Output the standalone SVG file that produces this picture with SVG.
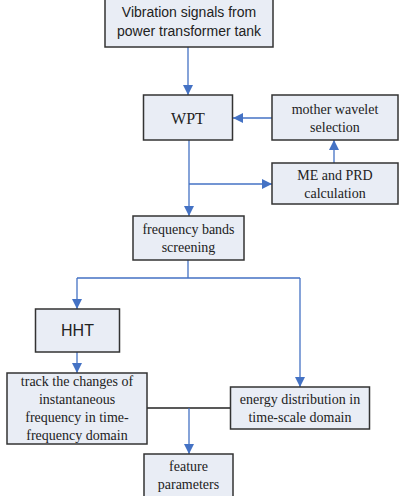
<svg xmlns="http://www.w3.org/2000/svg" width="400" height="496" viewBox="0 0 400 496">
<defs>
<marker id="ah" markerWidth="10" markerHeight="10" refX="10" refY="5" orient="auto" markerUnits="userSpaceOnUse">
<path d="M0,0 L10,5 L0,10 Z" fill="#4472c4"/>
</marker>
<style>
.box{fill:#e9edf5;stroke:#333;stroke-width:1.5}
.ser{font-family:"Liberation Serif","Times New Roman",serif;font-size:14px;fill:#222;text-anchor:middle}
.san{font-family:"Liberation Sans",Arial,sans-serif;font-size:14px;fill:#222;text-anchor:middle}
.c{fill:none;stroke:#4472c4;stroke-width:1.3}
.k{fill:none;stroke:#222;stroke-width:1.3}
</style>
</defs>
<rect width="400" height="496" fill="#fff"/>
<g id="connectors">
<path class="c" d="M188,47 V95" marker-end="url(#ah)"/>
<path class="c" d="M272,118 H233" marker-end="url(#ah)"/>
<path class="c" d="M334,163 V140" marker-end="url(#ah)"/>
<path class="c" d="M189,140 V216" marker-end="url(#ah)"/>
<path class="c" d="M189,184 H272" marker-end="url(#ah)"/>
<path class="c" d="M188,260 V278 M77,278 H300"/>
<path class="c" d="M77,278 V309" marker-end="url(#ah)"/>
<path class="c" d="M300,278 V387" marker-end="url(#ah)"/>
<path class="c" d="M77,352 V373" marker-end="url(#ah)"/>
<path class="k" d="M147,408 H230"/>
<path class="c" d="M189,408 V454" marker-end="url(#ah)"/>
</g>
<g id="n1">
<rect class="box" x="105" y="-1" width="168" height="48"/>
<text class="san" x="189" y="17">Vibration signals from</text>
<text class="san" x="189" y="36">power transformer tank</text>
</g>
<g id="wpt">
<rect class="box" x="143.5" y="95" width="89" height="45"/>
<text class="ser" x="188" y="124" style="font-size:16px">WPT</text>
</g>
<g id="mother">
<rect class="box" x="272" y="95" width="126" height="45"/>
<text class="ser" x="335" y="114">mother wavelet</text>
<text class="ser" x="335" y="132">selection</text>
</g>
<g id="me">
<rect class="box" x="272" y="163" width="126" height="41"/>
<text class="ser" x="335" y="180">ME and PRD</text>
<text class="ser" x="335" y="198">calculation</text>
</g>
<g id="freq">
<rect class="box" x="133" y="216" width="111" height="44"/>
<text class="ser" x="188.5" y="234">frequency bands</text>
<text class="ser" x="188.5" y="252">screening</text>
</g>
<g id="hht">
<rect class="box" x="35.5" y="309" width="84" height="43"/>
<text class="san" x="77.5" y="336" style="font-size:16px">HHT</text>
</g>
<g id="track">
<rect class="box" x="7" y="373" width="140" height="71"/>
<text class="ser" x="77" y="386">track the changes of</text>
<text class="ser" x="77" y="404">instantaneous</text>
<text class="ser" x="77" y="422">frequency in time-</text>
<text class="ser" x="77" y="440">frequency domain</text>
</g>
<g id="energy">
<rect class="box" x="230.5" y="387" width="139" height="42"/>
<text class="ser" x="300" y="404">energy distribution in</text>
<text class="ser" x="300" y="422">time-scale domain</text>
</g>
<g id="feature">
<rect class="box" x="144" y="454" width="89" height="46"/>
<text class="ser" x="188.5" y="471">feature</text>
<text class="ser" x="188.5" y="489">parameters</text>
</g>
</svg>
